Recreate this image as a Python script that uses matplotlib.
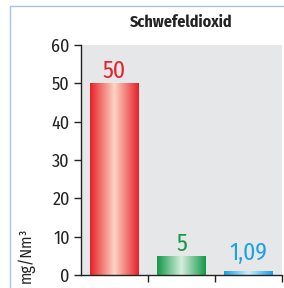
import numpy as np
import matplotlib
matplotlib.use("Agg")
import matplotlib.pyplot as plt
from matplotlib.colors import LinearSegmentedColormap
from matplotlib.patches import Rectangle

plt.rcParams['font.family'] = ['Fira Sans Condensed', 'DejaVu Sans']

title = "Schwefeldioxid"
categories = ["A", "B", "C"]
values = [50, 5, 1.09]
labels = ["50", "5", "1,09"]
edge_colors = ["#e62129", "#15984a", "#1aa0e4"]
mid_colors = ["#fdd3c2", "#d3eedc", "#c9ecfb"]
yticks = [0, 10, 20, 30, 40, 50, 60]

fig = plt.figure(figsize=(2.84, 2.88), dpi=100)
ax = fig.add_axes([0.285, 0.045, 0.708, 0.799])
ax.set_facecolor("#e6e7e9")

# frame around the chart
fig.patches.append(Rectangle((10 / 284, -0.1), 1.2, 1.1 - 6 / 288, transform=fig.transFigure,
                             fill=False, edgecolor="#a9c1e3", linewidth=1.0))

x = np.arange(len(categories))
bars = ax.bar(x, values, width=0.72, color="none", edgecolor="none")

grad = np.concatenate([np.linspace(0, 1, 50), np.linspace(1, 0, 50)])[None, :]
for b, ec, mc, lab, c in zip(bars, edge_colors, mid_colors, labels, edge_colors):
    cmap = LinearSegmentedColormap.from_list("g", [ec, mc])
    x0, y0 = b.get_x(), b.get_y()
    w, h = b.get_width(), b.get_height()
    im = ax.imshow(grad, cmap=cmap, aspect="auto", extent=[x0, x0 + w, y0, y0 + h],
                   interpolation="bicubic", zorder=2)
    im.set_clip_path(b)
    ax.text(x0 + w / 2, max(h, 2.5) + 0.1, lab, ha="center", va="bottom", color=c, fontsize=17)

ax.set_xlim(-0.5, 2.5)
ax.set_ylim(0, 60)
ax.set_yticks(yticks)
ax.set_xticks([0.5, 1.5, 2.5])
ax.set_xticklabels([])
ax.tick_params(axis="y", labelsize=13, length=5, width=1, color="#222222", labelcolor="#222222", pad=3)
ax.tick_params(axis="x", length=5, width=1, color="#222222")
for s in ["top", "right"]:
    ax.spines[s].set_visible(False)
for s in ["left", "bottom"]:
    ax.spines[s].set_color("#222222")
    ax.spines[s].set_linewidth(1.0)

fig.text(181 / 284, 1 - 22 / 288, title, ha="center", va="center", fontsize=11.5, fontweight="bold",
         color="#222222")
fig.text(26 / 284, 1 - 255 / 288, "mg/Nm³", rotation=90, ha="center", va="center", fontsize=11.5,
         color="#222222")

fig.savefig("out.png", dpi=100)
